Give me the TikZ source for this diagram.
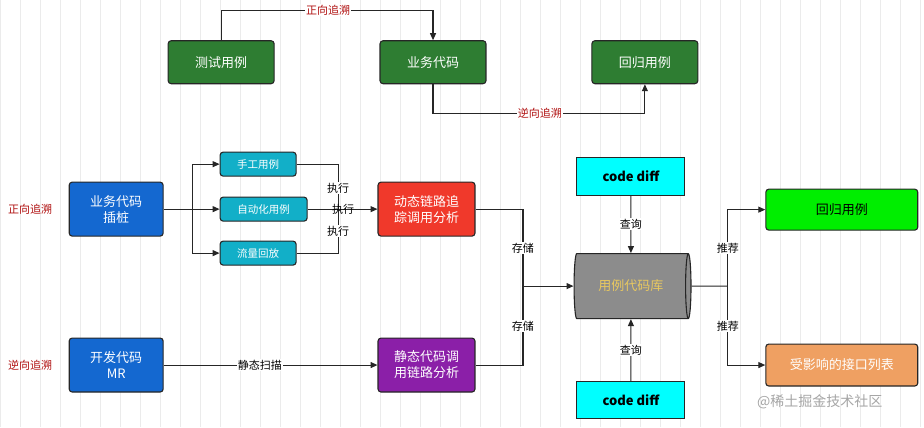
\documentclass[tikz,border=0pt]{standalone}
\usepackage{fontspec}
\setmainfont{Noto Sans CJK SC}
\usetikzlibrary{shapes.geometric,arrows.meta}
\definecolor{dgreen}{HTML}{2E7D32}
\definecolor{bblue}{HTML}{1468D0}
\definecolor{tealc}{HTML}{12AFC8}
\definecolor{redc}{HTML}{F0392B}
\definecolor{purp}{HTML}{8B1FA8}
\definecolor{cyanc}{HTML}{00FFFF}
\definecolor{lgreen}{HTML}{00EE00}
\definecolor{orangec}{HTML}{EFA062}
\definecolor{labred}{HTML}{B01010}
\definecolor{cylg}{HTML}{8C8C8C}
\definecolor{cylt}{HTML}{E8C860}
\begin{document}
\begin{tikzpicture}[x=1pt,y=-1pt,
  box/.style={draw=black!85,line width=1.1pt,rounded corners=3pt,align=center,font=\fontsize{13}{16}\selectfont,inner sep=0pt},
  sbox/.style={box,fill=tealc,text=white,font=\fontsize{10.5}{12}\selectfont,minimum height=24pt},
  line/.style={draw=black!85,line width=1.1pt},
  arr/.style={line,-{Triangle[length=7pt,width=6pt]}},
  lab/.style={fill=white,inner sep=1pt,font=\fontsize{11}{13}\selectfont},
  rlab/.style={lab,text=labred}]
\fill[white] (0,0) rectangle (924,427);
\draw[black!8,line width=0.5pt,step=20] (0,0) grid (924,427);
\useasboundingbox (0,0) rectangle (924,427);
% top row
\node[box,fill=dgreen,text=white,minimum width=106pt,minimum height=43pt] (t1) at (221,62) {测试用例};
\node[box,fill=dgreen,text=white,minimum width=106pt,minimum height=43pt] (t2) at (433,62) {业务代码};
\node[box,fill=dgreen,text=white,minimum width=106pt,minimum height=43pt] (t3) at (645,62) {回归用例};
\coordinate (ta) at (221,10); \coordinate (tb) at (433,10);
\coordinate (tc) at (433,113); \coordinate (td) at (645,113);
\draw[arr] (t1.north) -- (ta) -- (tb) -- (t2.north);
\node[rlab] at (328,10) {正向追溯};
\draw[arr] (t2.south) -- (tc) -- (td) -- (t3.south);
\node[rlab] at (540,113) {逆向追溯};
% left
\node[rlab,fill=none] at (30,209) {正向追溯};
\node[rlab,fill=none] at (30,365) {逆向追溯};
\node[box,fill=bblue,text=white,minimum width=94pt,minimum height=54pt] (cz) at (116,209) {业务代码\\插桩};
\node[box,fill=bblue,text=white,minimum width=94pt,minimum height=54pt] (mr) at (116,365) {开发代码\\MR};
\node[sbox,minimum width=76pt] (s1) at (258,164) {手工用例};
\node[sbox,minimum width=87pt] (s2) at (263.5,209) {自动化用例};
\node[sbox,minimum width=76pt] (s3) at (258,253) {流量回放};
\coordinate (br) at (192,209);
\draw[line] (cz.east) -- (br);
\draw[arr] (br) |- (s1.west);
\draw[arr] (br) -- (s2.west);
\draw[arr] (br) |- (s3.west);
\node[box,fill=redc,text=white,minimum width=97pt,minimum height=54pt] (dy) at (426.5,209) {动态链路追\\踪调用分析};
\node[box,fill=purp,text=white,minimum width=97pt,minimum height=54pt] (st) at (426.5,365) {静态代码调\\用链路分析};
\coordinate (e1) at (338,164); \coordinate (e3) at (338,253); \coordinate (em) at (338,209);
\draw[line] (s1.east) -- (e1) -- (em);
\draw[line] (s3.east) -- (e3) -- (em);
\draw[arr] (s2.east) -- (dy.west);
\node[lab,fill=white] at (338,188) {执行};
\node[lab,fill=none] at (343,209) {执行};
\node[lab,fill=white] at (338,231) {执行};
\draw[arr] (mr.east) -- (st.west) node[lab,pos=0.45] {静态扫描};
% cylinder
\node[cylinder,draw=black!85,line width=1.1pt,shape aspect=0.45,cylinder uses custom fill,cylinder body fill=cylg,cylinder end fill=cylg,minimum width=65pt,minimum height=117pt,text=cylt,font=\fontsize{13}{16}\selectfont,inner sep=0pt] (cy) at (631,286) {用例代码库\hspace{14pt}};
\coordinate (j1) at (523,209); \coordinate (j2) at (523,365); \coordinate (jm) at (523,286);
\draw[line] (dy.east) -- (j1) -- (jm);
\draw[line] (st.east) -- (j2) -- (jm);
\draw[arr] (jm) -- (cy.west);
\node[lab] at (523,248) {存储};
\node[lab] at (523,326) {存储};
\node[draw=black!85,line width=1.1pt,fill=cyanc,minimum width=108pt,minimum height=38pt,font=\fontsize{13}{16}\selectfont\bfseries] (cd1) at (631,176) {code diff};
\node[draw=black!85,line width=1.1pt,fill=cyanc,minimum width=108pt,minimum height=37pt,font=\fontsize{13}{16}\selectfont\bfseries] (cd2) at (631,400) {code diff};
\draw[arr] (cd1.south) -- (cy.north) node[lab,midway] {查询};
\draw[arr] (cd2.north) -- (cy.south) node[lab,midway] {查询};
% right
\node[box,fill=lgreen,text=black,minimum width=152pt,minimum height=41pt] (r1) at (842,209.5) {回归用例};
\node[box,fill=orangec,text=white,minimum width=152pt,minimum height=42pt] (r2) at (842,365) {受影响的接口列表};
\coordinate (k) at (728,286);
\draw[line] (cy.east) -- (k);
\draw[arr] (k) |- (r1.west);
\draw[arr] (k) |- (r2.west);
\node[lab] at (728,248) {推荐};
\node[lab] at (728,326) {推荐};
\node[text=black!35,font=\fontsize{14}{16}\selectfont] at (820,402) {@稀土掘金技术社区};
\end{tikzpicture}
\end{document}
